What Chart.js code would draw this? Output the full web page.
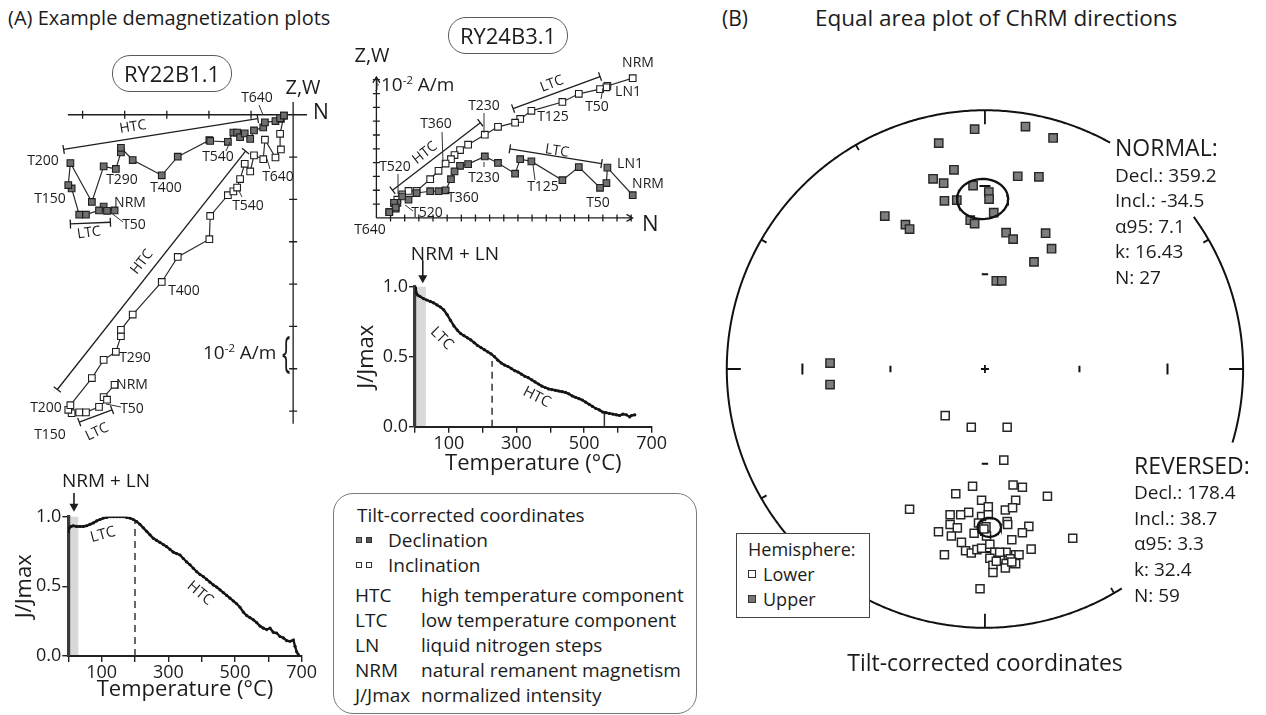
<!DOCTYPE html>
<html>
<head>
<meta charset="utf-8">
<title>Demagnetization plots and equal area plot</title>
<script src="https://cdn.jsdelivr.net/npm/chart.js@4.4.1/dist/chart.umd.min.js"></script>
<style>
  html, body { margin:0; padding:0; background:#fff; }
  #page { position:relative; width:1266px; height:715px; overflow:hidden; font-family:"Open Sans", sans-serif; color:#1c1c1c; }
  #page canvas { position:absolute; z-index:1; }
  .tx { position:absolute; white-space:nowrap; line-height:1; z-index:3; }
  .c { transform:translate(-50%,-50%); }
  .l { transform:translateY(-50%); }
  .pill { position:absolute; border:1.4px solid #5a5a5a; border-radius:18px; box-sizing:border-box; z-index:3; background:transparent; }
  sup { font-size:0.6em; vertical-align:0.55em; line-height:0; }
  .sq { position:absolute; width:6px; height:6px; border:1px solid #333; box-sizing:border-box; z-index:3; }
  .box { position:absolute; box-sizing:border-box; z-index:2; background:#fff; }
</style>
</head>
<body>
<div id="page">
  <!-- titles -->
  <div class="tx l" style="left:8px;top:18px;font-size:20px;">(A) Example demagnetization plots</div>
  <div class="tx l" style="left:722px;top:18px;font-size:21px;">(B)</div>
  <div class="tx l" style="left:815px;top:18px;font-size:22.5px;">Equal area plot of ChRM directions</div>

  <!-- RY22B1.1 Zijderveld texts -->
  <div class="pill" style="left:112px;top:55px;width:120px;height:37px;"></div>
  <div class="tx c" style="left:172px;top:73px;font-size:22px;">RY22B1.1</div>
  <div class="tx c" style="left:303px;top:87px;font-size:20px;">Z,W</div>
  <div class="tx l" style="left:313px;top:111px;font-size:21px;">N</div>
  <div class="tx l" style="left:203px;top:352px;font-size:19px;">10<sup>-2</sup> A/m</div>
  <div class="tx c" style="left:286px;top:350px;font-size:44px;transform:translate(-50%,-50%) scaleX(0.5);">{</div>

  <!-- RY24B3.1 Zijderveld texts -->
  <div class="pill" style="left:448px;top:17px;width:120px;height:37px;"></div>
  <div class="tx c" style="left:508px;top:35px;font-size:22px;">RY24B3.1</div>
  <div class="tx c" style="left:372px;top:55px;font-size:20px;">Z,W</div>
  <div class="tx l" style="left:642px;top:222px;font-size:22px;">N</div>
  <div class="tx c" style="left:377px;top:83px;font-size:16px;transform:translate(-50%,-50%) scaleX(0.6);">}</div>
  <div class="tx l" style="left:381px;top:84px;font-size:19px;">10<sup>-2</sup> A/m</div>

  <!-- legend box (A) -->
  <div class="box" style="left:333px;top:493px;width:364px;height:221px;border:1.3px solid #7a7a7a;border-radius:20px;background:transparent;"></div>
  <div class="tx l" style="left:357px;top:515px;font-size:19px;">Tilt-corrected coordinates</div>
  <div class="sq" style="left:356px;top:537px;background:#777;"></div>
  <div class="sq" style="left:366px;top:537px;background:#555;"></div>
  <div class="tx l" style="left:388px;top:540px;font-size:19px;">Declination</div>
  <div class="sq" style="left:356px;top:562px;background:#fff;"></div>
  <div class="sq" style="left:366px;top:562px;background:#fff;"></div>
  <div class="tx l" style="left:388px;top:565px;font-size:19px;">Inclination</div>
  <div class="tx l" style="left:355px;top:595px;font-size:19px;">HTC</div>
  <div class="tx l" style="left:421px;top:595px;font-size:19px;">high temperature component</div>
  <div class="tx l" style="left:355px;top:620px;font-size:19px;">LTC</div>
  <div class="tx l" style="left:421px;top:620px;font-size:19px;">low temperature component</div>
  <div class="tx l" style="left:355px;top:645px;font-size:19px;">LN</div>
  <div class="tx l" style="left:421px;top:645px;font-size:19px;">liquid nitrogen steps</div>
  <div class="tx l" style="left:355px;top:670px;font-size:19px;">NRM</div>
  <div class="tx l" style="left:421px;top:670px;font-size:19px;">natural remanent magnetism</div>
  <div class="tx l" style="left:355px;top:695px;font-size:19px;">J/Jmax</div>
  <div class="tx l" style="left:421px;top:695px;font-size:19px;">normalized intensity</div>

  <!-- stereonet texts -->
  <div class="tx l" style="left:1115px;top:147px;font-size:23px;">NORMAL:</div>
  <div class="tx l" style="left:1115px;top:175px;font-size:19px;">Decl.: 359.2</div>
  <div class="tx l" style="left:1115px;top:200px;font-size:19px;">Incl.: -34.5</div>
  <div class="tx l" style="left:1115px;top:226px;font-size:19px;">α95: 7.1</div>
  <div class="tx l" style="left:1115px;top:251px;font-size:19px;">k: 16.43</div>
  <div class="tx l" style="left:1115px;top:277px;font-size:19px;">N: 27</div>
  <div class="tx l" style="left:1134px;top:465px;font-size:23px;">REVERSED:</div>
  <div class="tx l" style="left:1134px;top:492px;font-size:19px;">Decl.: 178.4</div>
  <div class="tx l" style="left:1134px;top:518px;font-size:19px;">Incl.: 38.7</div>
  <div class="tx l" style="left:1134px;top:543px;font-size:19px;">α95: 3.3</div>
  <div class="tx l" style="left:1134px;top:569px;font-size:19px;">k: 32.4</div>
  <div class="tx l" style="left:1134px;top:595px;font-size:19px;">N: 59</div>
  <div class="tx c" style="left:985px;top:662px;font-size:23px;">Tilt-corrected coordinates</div>

  <div class="box" style="left:736px;top:533px;width:134px;height:85px;border:1.3px solid #444;"></div>
  <div class="tx l" style="left:748px;top:549px;font-size:18px;">Hemisphere:</div>
  <div class="sq" style="left:748px;top:570px;width:8px;height:8px;background:#fff;"></div>
  <div class="tx l" style="left:763px;top:574px;font-size:18px;">Lower</div>
  <div class="sq" style="left:748px;top:595px;width:8px;height:8px;background:#777;"></div>
  <div class="tx l" style="left:763px;top:599px;font-size:18px;">Upper</div>
</div>

<script>
// ======================= DATA =======================
// RY22B1.1 Zijderveld diagram, units of 1e-2 A/m (tilt-corrected)
const ry22Step = ['NRM','','T50','','','','T150','','T200','','','T290','','','','T400','','','','T540','','','','','','','T640','','','','',''];
const ry22North      = [-4.24,-4.50,-4.42,-4.61,-4.92,-5.08,-5.26,-5.34,-5.29,-4.78,-4.50,-4.21,-4.09,-4.09,-3.81,-3.12,-2.74,-1.99,-1.97,-1.55,-1.42,-1.33,-1.26,-1.15,-1.02,-0.93,-0.71,-0.67,-0.42,-0.29,-0.31,-0.22];
const ry22Horizontal = [-2.26,-2.17,-2.27,-2.26,-2.36,-2.36,-1.74,-1.66,-1.14,-2.06,-1.22,-1.28,-0.89,-0.78,-1.07,-1.43,-0.99,-0.60,-0.62,-0.64,-0.42,-0.42,-0.53,-0.44,-0.57,-0.37,-0.30,-0.18,-0.15,-0.10,-0.08,-0.02];
const ry22Vertical   = [-6.38,-6.67,-6.73,-6.90,-7.03,-7.03,-7.05,-6.97,-6.86,-6.22,-5.79,-5.60,-5.23,-5.08,-4.72,-3.95,-3.36,-2.94,-2.39,-1.90,-1.81,-1.72,-1.52,-1.16,-1.34,-0.96,-1.05,-0.59,-1.01,-0.82,-0.45,-0.02];
// fitted components: [north, other] start and end
const ry22Fits = [
  { name:'HTC', from:[-5.45,-0.82], to:[-0.84,-0.09] },
  { name:'HTC', from:[-5.60,-6.49], to:[-1.13,-0.86] },
  { name:'LTC', from:[-5.29,-2.58], to:[-4.34,-2.54] },
  { name:'LTC', from:[-5.08,-7.26], to:[-4.30,-6.97] }
];

// RY24B3.1 Zijderveld diagram, units of 1e-2 A/m
const ry24Step = ['NRM','LN1','','T50','','','T125','','','','T230','','','','','T360','','','','','T520','','','','T640'];
const ry24North      = [18.11,16.32,16.25,15.80,14.30,13.14,10.95,10.16,9.80,8.59,7.66,6.48,5.91,5.52,5.27,4.89,4.39,3.80,2.84,2.27,1.82,1.48,1.25,1.36,0.91];
const ry24Horizontal = [1.64,3.64,2.52,2.18,3.68,2.73,4.09,4.25,3.20,3.98,4.45,3.89,3.77,3.36,2.80,2.00,1.93,1.93,1.80,1.32,1.55,1.09,1.09,0.75,0.41];
const ry24Vertical   = [10.11,9.55,9.45,9.32,8.98,8.39,7.75,7.16,6.89,6.59,6.02,5.30,4.91,4.55,4.25,3.93,3.41,2.80,1.95,1.95,1.70,1.32,1.09,0.68,0.41];
const ry24Fits = [
  { name:'HTC', from:[1.14,2.00], to:[7.34,6.89] },
  { name:'LTC', from:[9.66,7.91], to:[15.80,10.23] },
  { name:'LTC', from:[9.43,5.00], to:[15.91,3.93] }
];

// normalized intensity curves J/Jmax vs temperature (°C)
const ry22Temp = [0,3,8,15,25,35,45,55,65,75,85,95,105,115,125,135,145,155,165,175,185,195,205,215,225,235,245,255,265,275,285,295,305,315,325,335,345,355,365,375,385,395,405,415,425,435,445,455,465,475,485,495,505,515,525,535,545,555,565,575,585,595,605,615,625,635,645,655,665,675,680,685,690];
const ry22J    = [0.89,0.92,0.93,0.935,0.93,0.93,0.93,0.935,0.945,0.955,0.97,0.98,0.99,0.995,1.0,1.0,1.0,1.0,1.0,0.995,0.99,0.98,0.965,0.945,0.92,0.895,0.87,0.845,0.83,0.815,0.80,0.785,0.765,0.745,0.735,0.725,0.70,0.675,0.655,0.63,0.605,0.585,0.57,0.55,0.53,0.51,0.495,0.475,0.455,0.435,0.415,0.395,0.375,0.35,0.315,0.29,0.275,0.26,0.24,0.215,0.20,0.19,0.20,0.17,0.165,0.14,0.13,0.11,0.105,0.115,0.07,0.03,0.01];
const ry24Temp = [0,2,4,8,15,25,35,45,55,65,75,85,95,105,115,125,135,145,155,165,175,185,195,205,215,225,235,245,255,265,275,285,295,305,315,325,335,345,355,365,375,385,395,405,415,425,435,445,455,465,475,485,495,505,515,525,535,545,555,565,575,585,595,605,615,625,635,640,650];
const ry24J    = [1.0,0.985,0.955,0.94,0.93,0.915,0.905,0.895,0.885,0.87,0.855,0.835,0.80,0.76,0.72,0.69,0.665,0.65,0.635,0.62,0.60,0.58,0.565,0.55,0.535,0.52,0.50,0.475,0.455,0.44,0.43,0.415,0.40,0.39,0.375,0.36,0.35,0.335,0.32,0.305,0.29,0.28,0.27,0.265,0.26,0.255,0.25,0.245,0.235,0.22,0.21,0.20,0.19,0.175,0.16,0.145,0.13,0.12,0.105,0.10,0.095,0.09,0.085,0.08,0.09,0.085,0.07,0.08,0.085];
const tempTicks = [100, 300, 500, 700];

// equal-area projection coordinates (east, north) of ChRM directions
const upperEast  = [-0.040,0.157,0.264,-0.179,-0.120,-0.201,-0.160,-0.046,0.015,0.016,0.127,0.209,-0.157,-0.109,0.034,-0.057,-0.040,-0.388,-0.308,-0.292,0.082,0.109,0.235,0.258,0.190,0.044,0.065,-0.600,-0.600];
const upperNorth = [0.927,0.937,0.893,0.873,0.770,0.735,0.718,0.709,0.684,0.657,0.745,0.743,0.650,0.653,0.604,0.575,0.562,0.591,0.558,0.541,0.527,0.502,0.525,0.465,0.414,0.341,0.341,0.023,-0.060];
const lowerEast  = [-0.154,-0.053,0.086,0.073,-0.048,-0.113,0.109,0.145,0.242,-0.292,-0.013,0.013,0.119,0.079,0.107,-0.135,-0.094,-0.063,-0.013,0.013,0.086,-0.135,-0.107,-0.180,-0.130,-0.042,-0.025,0.170,0.145,0.104,-0.091,-0.075,-0.053,-0.031,-0.013,0.019,0.006,0.038,0.082,0.119,0.132,0.179,-0.157,0.019,0.059,0.098,0.082,0.119,0.031,0.079,0.031,0.340,-0.019,0.004,0.088,0.057,0.104,-0.004,0.044];
const lowerNorth = [-0.180,-0.225,-0.225,-0.352,-0.453,-0.482,-0.448,-0.457,-0.492,-0.542,-0.507,-0.532,-0.507,-0.545,-0.536,-0.563,-0.563,-0.554,-0.570,-0.563,-0.589,-0.601,-0.614,-0.629,-0.645,-0.635,-0.595,-0.608,-0.633,-0.660,-0.670,-0.702,-0.711,-0.698,-0.693,-0.677,-0.645,-0.708,-0.708,-0.718,-0.718,-0.696,-0.718,-0.731,-0.733,-0.733,-0.752,-0.752,-0.758,-0.769,-0.786,-0.654,-0.849,-0.610,-0.601,-0.708,-0.746,-0.618,-0.743];
const normalMean   = { dec:359.2, inc:-34.5, a95:7.1 };
const reversedMean = { dec:178.4, inc:38.7,  a95:3.3 };
const inclinationTicks = [60, 30];

// ======================= HELPERS =======================
const FONT = '"Open Sans", sans-serif';
const INK = '#1c1c1c';
const D2R = Math.PI / 180;
Chart.defaults.font.family = FONT;
Chart.defaults.color = INK;

function makeCanvas(id, b) {
  const c = document.createElement('canvas');
  c.id = id; c.width = b.w; c.height = b.h;
  c.style.left = b.left + 'px'; c.style.top = b.top + 'px';
  c.style.width = b.w + 'px'; c.style.height = b.h + 'px';
  document.getElementById('page').appendChild(c);
  return c;
}

// text annotations given in page pixels (label placement only)
function labelPlugin(items, box, size) {
  return { id:'pageLabels', afterDatasetsDraw(chart) {
    const ctx = chart.ctx;
    ctx.save(); ctx.fillStyle = INK; ctx.strokeStyle = '#333'; ctx.lineWidth = 1;
    for (const L of items) {
      if (L.lead) {
        ctx.beginPath();
        ctx.moveTo(L.lead[0] - box.left, L.lead[1] - box.top);
        ctx.lineTo(L.lead[2] - box.left, L.lead[3] - box.top);
        ctx.stroke();
      }
      ctx.save();
      ctx.translate(L.x - box.left, L.y - box.top);
      ctx.rotate((L.r || 0) * D2R);
      ctx.font = (L.size || size) + 'px ' + FONT;
      ctx.textAlign = 'center'; ctx.textBaseline = 'middle';
      ctx.fillText(L.t, 0, 0);
      ctx.restore();
    }
    ctx.restore();
  }};
}

// axes through the origin for the orthogonal vector plots
function zijAxesPlugin(ax) {
  return { id:'zijAxes', beforeDatasetsDraw(chart) {
    const { ctx, scales:{ x, y } } = chart;
    const x0 = x.getPixelForValue(0), y0 = y.getPixelForValue(0);
    ctx.save(); ctx.strokeStyle = '#1e1e1e'; ctx.lineWidth = 1.3;
    ctx.beginPath();
    ctx.moveTo(x.getPixelForValue(ax.h[0]), y0); ctx.lineTo(x.getPixelForValue(ax.h[1]), y0);
    ctx.moveTo(x0, y.getPixelForValue(ax.v[0])); ctx.lineTo(x0, y.getPixelForValue(ax.v[1]));
    for (let t = Math.ceil(ax.h[0]); t <= Math.floor(ax.h[1]); t++) {
      if (t === 0) continue;
      const p = x.getPixelForValue(t);
      ctx.moveTo(p, y0 - ax.tick); ctx.lineTo(p, y0 + ax.tick);
    }
    for (let t = Math.ceil(ax.v[0]); t <= Math.floor(ax.v[1]); t++) {
      if (t === 0) continue;
      const p = y.getPixelForValue(t);
      ctx.moveTo(x0 - ax.tick, p); ctx.lineTo(x0 + ax.tick, p);
    }
    if (ax.arrows) {
      const hx = x.getPixelForValue(ax.h[1]);
      ctx.moveTo(hx - 6, y0 - 3.5); ctx.lineTo(hx, y0); ctx.lineTo(hx - 6, y0 + 3.5);
      const vy = y.getPixelForValue(ax.v[1]);
      ctx.moveTo(x0 - 3.5, vy + 6); ctx.lineTo(x0, vy); ctx.lineTo(x0 + 3.5, vy + 6);
    }
    ctx.stroke();
    ctx.restore();
  }, afterDatasetsDraw(chart) {
    // end bars on fitted component lines
    const ctx = chart.ctx;
    ctx.save(); ctx.strokeStyle = '#1e1e1e'; ctx.lineWidth = 1.3;
    chart.data.datasets.forEach((ds, i) => {
      if (!ds.fitLine) return;
      const pts = chart.getDatasetMeta(i).data;
      const a = pts[0], b = pts[1];
      const dx = b.x - a.x, dy = b.y - a.y, L = Math.hypot(dx, dy);
      const nx = -dy / L * 4.5, ny = dx / L * 4.5;
      ctx.beginPath();
      for (const p of [a, b]) { ctx.moveTo(p.x - nx, p.y - ny); ctx.lineTo(p.x + nx, p.y + ny); }
      ctx.stroke();
    });
    ctx.restore();
  }};
}

function zijderveld(id, b, north, horiz, vert, fits, ax, labels) {
  const cv = makeCanvas(id, b);
  const ox = b.ox - b.left, oy = b.oy - b.top;
  const pointStyle = { showLine:true, borderColor:'#2b2b2b', borderWidth:1.2, pointStyle:'rect',
                       pointRadius:4.7, pointBorderColor:'#1e1e1e', pointBorderWidth:1.1 };
  const datasets = [
    Object.assign({ label:'Declination', data: north.map((n, i) => ({ x:n, y:horiz[i] })), pointBackgroundColor:'#6f6f6f' }, pointStyle),
    Object.assign({ label:'Inclination', data: north.map((n, i) => ({ x:n, y:vert[i] })), pointBackgroundColor:'#ffffff' }, pointStyle)
  ];
  fits.forEach(f => datasets.push({ label:f.name, fitLine:true, showLine:true, pointRadius:0,
    borderColor:'#1e1e1e', borderWidth:1.3,
    data:[{ x:f.from[0], y:f.from[1] }, { x:f.to[0], y:f.to[1] }] }));
  return new Chart(cv, {
    type:'scatter', data:{ datasets },
    options:{
      responsive:false, animation:false, events:[],
      layout:{ padding:0 },
      plugins:{ legend:{ display:false }, tooltip:{ enabled:false } },
      scales:{
        x:{ type:'linear', display:false, min:-ox / b.unit, max:(b.w - ox) / b.unit },
        y:{ type:'linear', display:false, min:-(b.h - oy) / b.unit, max:oy / b.unit }
      }
    },
    plugins:[ zijAxesPlugin(ax), labelPlugin(labels, b, 14) ]
  });
}

// grey band, markers and notes for intensity curves (data units)
function jExtras(o) {
  return { id:'jExtras',
    beforeDraw(chart) {
      const { ctx, scales:{ x, y } } = chart;
      ctx.save(); ctx.fillStyle = '#d9d9d9';
      const x0 = x.getPixelForValue(o.band[0]), x1 = x.getPixelForValue(o.band[1]);
      const y0 = y.getPixelForValue(0), y1 = y.getPixelForValue(1);
      ctx.fillRect(x0, y1, x1 - x0, y0 - y1);
      ctx.restore();
    },
    afterDraw(chart) {
      const { ctx, scales:{ x, y } } = chart;
      ctx.save(); ctx.fillStyle = INK; ctx.strokeStyle = INK;
      ctx.textAlign = 'center'; ctx.textBaseline = 'middle';
      for (const n of o.notes) {
        ctx.save();
        ctx.translate(x.getPixelForValue(n.x), y.getPixelForValue(n.y));
        ctx.rotate((n.r || 0) * D2R);
        ctx.font = n.size + 'px ' + FONT;
        ctx.fillText(n.t, 0, 0);
        ctx.restore();
      }
      const ax = x.getPixelForValue(o.arrow.x), ay0 = y.getPixelForValue(o.arrow.y0), ay1 = y.getPixelForValue(o.arrow.y1);
      ctx.lineWidth = 1.6;
      ctx.beginPath(); ctx.moveTo(ax, ay0); ctx.lineTo(ax, ay1 - 5); ctx.stroke();
      ctx.beginPath(); ctx.moveTo(ax - 4.5, ay1 - 8); ctx.lineTo(ax, ay1); ctx.lineTo(ax + 4.5, ay1 - 8); ctx.closePath(); ctx.fill();
      ctx.restore();
    }
  };
}

function jCurve(id, b, temps, vals, o) {
  const cv = makeCanvas(id, b);
  const datasets = [{ label:'J/Jmax', data: temps.map((t, i) => ({ x:t, y:vals[i] })), showLine:true,
    borderColor:'#151515', borderWidth:2.4, pointRadius:1.6, pointBackgroundColor:'#151515', pointBorderWidth:0 }];
  o.marks.forEach(m => datasets.push({ data:[{ x:m.x, y:0 }, { x:m.x, y:m.top }], showLine:true, pointRadius:0,
    borderColor:'#333', borderWidth:1.5, borderDash: m.dash ? [7, 5] : [] }));
  const grid = { drawOnChartArea:false, drawTicks:true, tickLength:6, color:'#222', lineWidth:1.4 };
  return new Chart(cv, {
    type:'scatter', data:{ datasets },
    options:{
      responsive:false, animation:false, events:[],
      layout:{ padding:{ left:0, top:o.padTop, right:o.padRight, bottom:0 } },
      plugins:{ legend:{ display:false }, tooltip:{ enabled:false } },
      scales:{
        x:{ type:'linear', min:0, max:700, afterFit:s => { s.height = o.xAxisH; },
            ticks:{ stepSize:100, autoSkip:false, maxRotation:0, padding:0, color:INK, font:{ size:18 },
                    callback:v => tempTicks.includes(v) ? String(v) : '' },
            grid, border:{ color:'#222', width:2 },
            title:{ display:true, text:'Temperature (°C)', color:INK, font:{ size:22 }, padding:{ top:0, bottom:o.xTitlePad } } },
        y:{ type:'linear', min:0, max:1, afterFit:s => { s.width = o.yAxisW; },
            ticks:{ stepSize:0.5, padding:1, color:INK, font:{ size:18 }, callback:v => v.toFixed(1) },
            grid, border:{ color:'#3a3a3a', width:3.2 },
            title:{ display:true, text:'J/Jmax', color:INK, font:{ size:22 }, padding:{ top:o.yTitlePad, bottom:0 } } }
      }
    },
    plugins:[ jExtras(o) ]
  });
}

// ---------- equal area helpers ----------
function dirVec(dec, inc) {
  return [Math.cos(inc * D2R) * Math.cos(dec * D2R), Math.cos(inc * D2R) * Math.sin(dec * D2R), Math.sin(inc * D2R)];
}
function equalArea(p) {
  const h = Math.hypot(p[0], p[1]) || 1e-9;
  const r = Math.sqrt(Math.max(0, 1 - Math.abs(p[2])));
  return { x: r * p[1] / h, y: r * p[0] / h };
}
function cross(a, b) { return [a[1]*b[2]-a[2]*b[1], a[2]*b[0]-a[0]*b[2], a[0]*b[1]-a[1]*b[0]]; }
function norm(a) { const l = Math.hypot(a[0], a[1], a[2]); return [a[0]/l, a[1]/l, a[2]/l]; }
function confidenceCircle(m) {
  const c = dirVec(m.dec, m.inc);
  const u = norm(cross(c, [0, 0, 1]));
  const v = norm(cross(c, u));
  const ca = Math.cos(m.a95 * D2R), sa = Math.sin(m.a95 * D2R);
  const pts = [];
  for (let t = 0; t <= 360; t += 5) {
    const ct = Math.cos(t * D2R), st = Math.sin(t * D2R);
    pts.push(equalArea([0, 1, 2].map(k => c[k] * ca + sa * (ct * u[k] + st * v[k]))));
  }
  return pts;
}
const stereoGaps = [[29, 54], [106.5, 148]];

const stereoFrame = { id:'stereoFrame', beforeDatasetsDraw(chart) {
  const { ctx, scales:{ x, y } } = chart;
  const P = (e, n) => [x.getPixelForValue(e), y.getPixelForValue(n)];
  const [cx, cy] = P(0, 0);
  const R = x.getPixelForValue(1) - cx;
  const inGap = a => stereoGaps.some(g => a > g[0] && a < g[1]);
  ctx.save(); ctx.strokeStyle = '#111'; ctx.lineWidth = 2;
  ctx.beginPath();
  let pen = false;
  for (let a = 0; a <= 360.001; a += 0.5) {
    if (inGap(a)) { pen = false; continue; }
    const [X, Y] = P(Math.sin(a * D2R), Math.cos(a * D2R));
    if (pen) ctx.lineTo(X, Y); else ctx.moveTo(X, Y);
    pen = true;
  }
  ctx.stroke();
  ctx.lineWidth = 1.8; ctx.beginPath();
  for (let a = 0; a < 360; a += 30) {
    if (stereoGaps.some(g => a >= g[0] && a <= g[1])) continue;
    const len = a % 90 === 0 ? 14 : 6;
    const [X, Y] = P(Math.sin(a * D2R), Math.cos(a * D2R));
    const dx = (cx - X) / R, dy = (cy - Y) / R;
    ctx.moveTo(X, Y); ctx.lineTo(X + dx * len, Y + dy * len);
  }
  ctx.moveTo(cx - 4, cy); ctx.lineTo(cx + 4, cy); ctx.moveTo(cx, cy - 4); ctx.lineTo(cx, cy + 4);
  ctx.stroke();
  ctx.lineWidth = 2; ctx.beginPath();
  for (const inc of inclinationTicks) {
    const r = Math.sqrt(1 - Math.sin(inc * D2R));
    const half = inc === 30 ? 5.5 : 3.2;
    for (const s of [-1, 1]) {
      const [ex, ey] = P(s * r, 0);
      ctx.moveTo(ex, ey - half); ctx.lineTo(ex, ey + half);
      const [nx, ny] = P(0, s * r);
      ctx.moveTo(nx - half, ny); ctx.lineTo(nx + half, ny);
    }
  }
  ctx.stroke();
  ctx.restore();
}};

// ======================= CHARTS =======================
zijderveld('zij22', { left:0, top:40, w:340, h:400, ox:297.5, oy:111, unit:43.6 },
  ry22North, ry22Horizontal, ry22Vertical, ry22Fits,
  { h:[-5.35, 0.33], v:[-7.3, 0.3], tick:4, arrows:false },
  [
    { t:'HTC', x:133, y:127, r:-9 },
    { t:'T200', x:43, y:161 }, { t:'T150', x:50, y:199 }, { t:'T290', x:122, y:180 },
    { t:'T400', x:166, y:188 }, { t:'T540', x:218, y:157, lead:[226,151,230,142] },
    { t:'T640', x:257, y:98, lead:[259,105,263,115] }, { t:'NRM', x:130, y:203 },
    { t:'T50', x:134, y:225, lead:[123,222,110,212] }, { t:'LTC', x:89, y:233, r:-8 },
    { t:'T640', x:278, y:177, lead:[270,169,267,159] }, { t:'T540', x:248, y:206, lead:[242,197,239,191] },
    { t:'HTC', x:142, y:262, r:-52 }, { t:'T400', x:184, y:291 }, { t:'T290', x:135, y:358 },
    { t:'NRM', x:132, y:385 }, { t:'T50', x:132, y:409, lead:[121,407,106,404] },
    { t:'T200', x:46, y:408 }, { t:'T150', x:50, y:435 }, { t:'LTC', x:97, y:432, r:-25 }
  ]);

zijderveld('zij24', { left:340, top:40, w:330, h:200, ox:371.7, oy:222.7, unit:14.67 },
  ry24North, ry24Horizontal, ry24Vertical, ry24Fits,
  { h:[0, 18.1], v:[0, 10.2], tick:3.5, arrows:true },
  [
    { t:'NRM', x:638, y:63 }, { t:'LN1', x:628, y:92 }, { t:'T50', x:597, y:107, lead:[601,99,603,88] },
    { t:'T125', x:553, y:117 }, { t:'T230', x:484, y:106, lead:[484,113,484,133] },
    { t:'T360', x:436, y:124, lead:[442,132,443,162] }, { t:'T520', x:395, y:167, lead:[398,174,398,194] },
    { t:'HTC', x:425, y:153, r:-38 }, { t:'LTC', x:552, y:84, r:-21 },
    { t:'LTC', x:557, y:151, r:9 }, { t:'LN1', x:630, y:164 }, { t:'NRM', x:648, y:184 },
    { t:'T50', x:598, y:203 }, { t:'T125', x:543, y:187, lead:[533,165,535,180] },
    { t:'T230', x:484, y:178, lead:[484,162,484,167] }, { t:'T360', x:463, y:198 },
    { t:'T520', x:427, y:213, lead:[405,205,413,211] }, { t:'T640', x:370, y:230 }
  ]);

jCurve('j24', { left:340, top:240, w:330, h:240 }, ry24Temp, ry24J, {
  yAxisW:75, padTop:46.7, padRight:18.3, xAxisH:53.3, xTitlePad:2.8, yTitlePad:13.5,
  band:[0, 32], marks:[{ x:228, top:0.47, dash:true }, { x:560, top:0.1, dash:false }],
  notes:[ { t:'LTC', x:79, y:0.63, r:45, size:15 }, { t:'HTC', x:360, y:0.21, r:27, size:15 },
          { t:'NRM + LN', x:118, y:1.226, size:19 } ],
  arrow:{ x:23, y0:1.19, y1:1.025 }
});

jCurve('j22', { left:0, top:470, w:320, h:245 }, ry22Temp, ry22J, {
  yAxisW:68.3, padTop:46.7, padRight:18.3, xAxisH:59, xTitlePad:11.8, yTitlePad:11.8,
  band:[0, 30], marks:[{ x:200, top:0.97, dash:true }],
  notes:[ { t:'LTC', x:104, y:0.87, r:-15, size:15 }, { t:'HTC', x:395, y:0.45, r:40, size:15 },
          { t:'NRM + LN', x:113, y:1.25, size:19 } ],
  arrow:{ x:17, y0:1.17, y1:1.035 }
});

(function () {
  const b = { left:700, top:60, w:566, h:620, cx:985, cy:369, R:265 };
  const cv = makeCanvas('stereo', b);
  const sq = { pointStyle:'rect', pointBorderColor:'#262626', showLine:false };
  new Chart(cv, {
    type:'scatter',
    data:{ datasets:[
      { label:'α95 normal', data:confidenceCircle(normalMean), showLine:true, pointRadius:0, borderColor:'#111', borderWidth:2.3 },
      { label:'α95 reversed', data:confidenceCircle(reversedMean), showLine:true, pointRadius:0, borderColor:'#111', borderWidth:2.3 },
      Object.assign({ label:'Upper', data:upperEast.map((e, i) => ({ x:e, y:upperNorth[i] })),
        pointRadius:5.9, pointBackgroundColor:'#7d7d7d', pointBorderWidth:1.4 }, sq),
      Object.assign({ label:'Lower', data:lowerEast.map((e, i) => ({ x:e, y:lowerNorth[i] })),
        pointRadius:5.7, pointBackgroundColor:'#ffffff', pointBorderWidth:1.5 }, sq)
    ]},
    options:{
      responsive:false, animation:false, events:[],
      layout:{ padding:0 },
      plugins:{ legend:{ display:false }, tooltip:{ enabled:false } },
      scales:{
        x:{ type:'linear', display:false, min:(b.left - b.cx) / b.R, max:(b.left + b.w - b.cx) / b.R },
        y:{ type:'linear', display:false, min:(b.cy - b.top - b.h) / b.R, max:(b.cy - b.top) / b.R }
      }
    },
    plugins:[ stereoFrame ]
  });
})();
</script>
</body>
</html>
